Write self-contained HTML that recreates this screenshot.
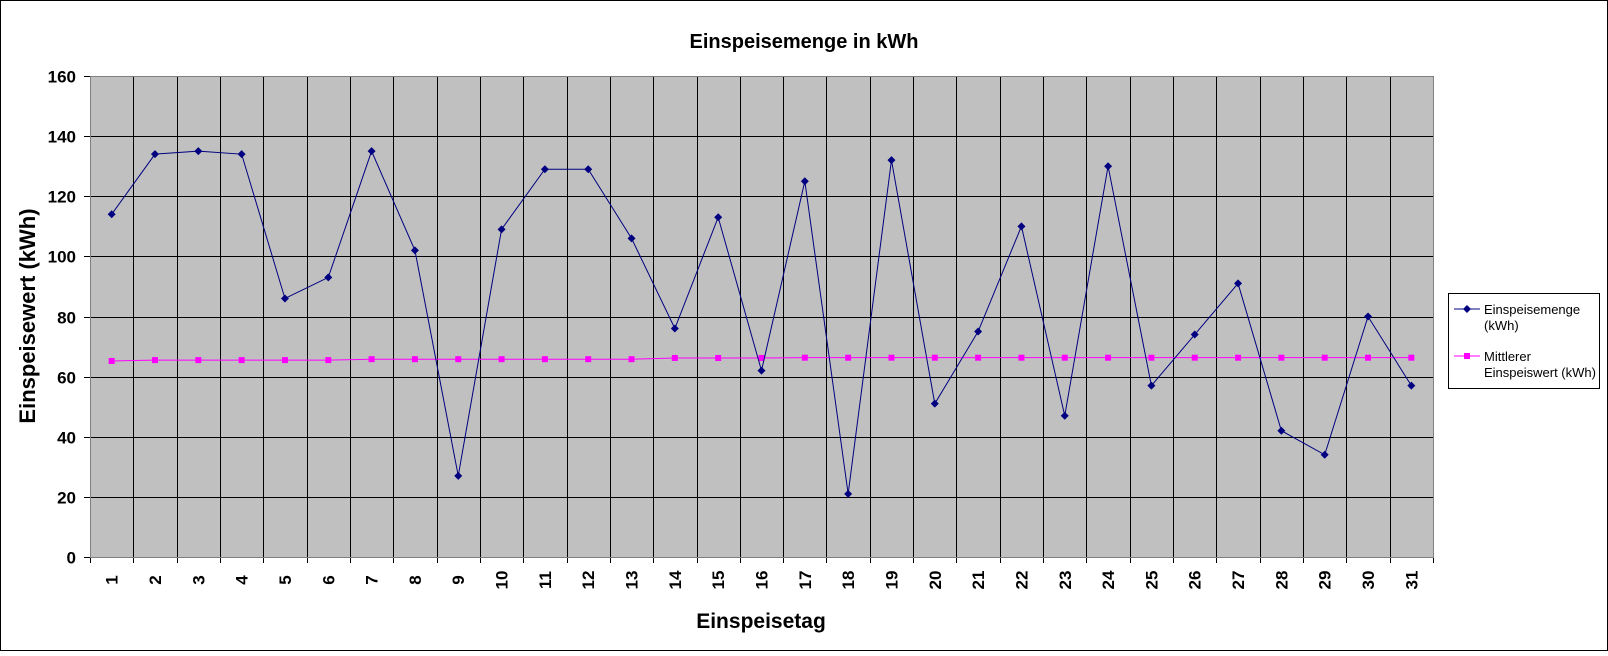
<!DOCTYPE html>
<html><head><meta charset="utf-8"><style>
body{margin:0;background:#fff}
svg text{font-family:"Liberation Sans",Arial,sans-serif}
</style></head><body>
<svg id="c" width="1608" height="651" xmlns="http://www.w3.org/2000/svg">
<rect x="0.5" y="0.5" width="1607" height="650" fill="#fff" stroke="#000"/>
<text x="804" y="48" text-anchor="middle" font-size="20" font-weight="bold">Einspeisemenge in kWh</text>
<rect x="90" y="76" width="1343" height="481" fill="#c0c0c0"/>
<g id="grid"></g><g id="axes"></g><g id="series"></g>
<text transform="translate(35,316) rotate(-90)" text-anchor="middle" font-size="22" font-weight="bold">Einspeisewert  (kWh)</text>
<text x="761" y="628" text-anchor="middle" font-size="21" font-weight="bold">Einspeisetag</text>
<g>
<rect x="1448.5" y="293.5" width="151" height="95" fill="#fff" stroke="#000"/>
<line x1="1454" y1="309" x2="1480" y2="309" stroke="#000080"/>
<path d="M1467 305 L1471 309 L1467 313 L1463 309Z" fill="#000080"/>
<text x="1484" y="314" font-size="13">Einspeisemenge</text>
<text x="1484" y="330" font-size="13">(kWh)</text>
<line x1="1454" y1="356" x2="1480" y2="356" stroke="#ff00ff"/>
<rect x="1464" y="353" width="6" height="6" fill="#ff00ff"/>
<text x="1484" y="361" font-size="13">Mittlerer</text>
<text x="1484" y="377" font-size="13">Einspeiswert (kWh)</text>
</g>
</svg>
<script>
const categories=[1,2,3,4,5,6,7,8,9,10,11,12,13,14,15,16,17,18,19,20,21,22,23,24,25,26,27,28,29,30,31];
const einspeisemenge=[114,134,135,134,86,93,135,102,27,109,129,129,106,76,113,62,125,21,132,51,75,110,47,130,57,74,91,42,34,80,57];
const mittlerer=[65.2,65.5,65.5,65.5,65.5,65.5,65.8,65.8,65.8,65.8,65.8,65.8,65.8,66.2,66.2,66.2,66.3,66.3,66.3,66.3,66.3,66.3,66.3,66.3,66.3,66.3,66.3,66.3,66.3,66.3,66.3];
const yTicks=[0,20,40,60,80,100,120,140,160];
const L=90,R=1433,T=76,B=557,ymax=160;
const bw=(R-L)/categories.length;
const y=v=>B-(v/ymax)*(B-T);
const x=i=>L+bw*(i+0.5);
const NS="http://www.w3.org/2000/svg";
function mk(tag,attrs,parent,txt){const e=document.createElementNS(NS,tag);for(const k in attrs)e.setAttribute(k,attrs[k]);if(txt!==undefined)e.textContent=txt;document.getElementById(parent).appendChild(e);return e;}
yTicks.forEach(t=>{
  const yy=Math.round(y(t))+0.5;
  const g=mk('line',{x1:L-6,y1:yy,x2:R,y2:yy,stroke:'#000'},'grid');
  
  
  const lb=mk('text',{x:L-14,y:yy+6,'text-anchor':'end','font-size':17,'font-weight':'bold'},'axes',String(t));
  
  
});
for(let i=0;i<=categories.length;i++){
  const xx=Math.round(L+bw*i)+0.5;
  const g=mk('line',{x1:xx,y1:T,x2:xx,y2:B+6,stroke:'#000'},'grid');
  
  
}
const frame=mk('rect',{x:L+0.5,y:T+0.5,width:R-L,height:B-T,fill:'none',stroke:'#808080'},'grid');


categories.forEach((c,i)=>{
  const t=mk('text',{transform:`translate(${x(i)+6},${580}) rotate(-90)`,'text-anchor':'middle','font-size':17,'font-weight':'bold'},'axes',String(c));
  
  
});
const p2=mk('polyline',{points:mittlerer.map((v,i)=>x(i)+','+y(v)).join(' '),fill:'none',stroke:'#ff00ff','stroke-width':1},'series');


mittlerer.forEach((v,i)=>{
  const r=mk('rect',{x:x(i)-3,y:y(v)-3,width:6,height:6,fill:'#ff00ff'},'series');
  
  
});
const p1=mk('polyline',{points:einspeisemenge.map((v,i)=>x(i)+','+y(v)).join(' '),fill:'none',stroke:'#000080','stroke-width':1},'series');


einspeisemenge.forEach((v,i)=>{
  const cx=x(i),cy=y(v);
  const d=mk('path',{d:`M${cx} ${cy-4}L${cx+4} ${cy}L${cx} ${cy+4}L${cx-4} ${cy}Z`,fill:'#000080'},'series');
  
  
});
</script>
</body></html>
